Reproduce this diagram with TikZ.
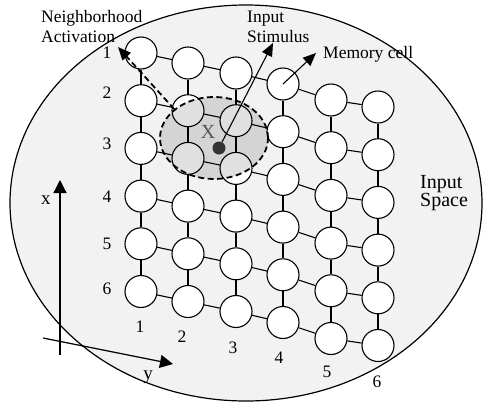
\documentclass[tikz,border=0pt]{standalone}
\usepackage{fontspec}
\setmainfont{Liberation Serif}
\usetikzlibrary{arrows.meta,shapes.geometric}
\definecolor{spacefill}{HTML}{F2F2F2}
\definecolor{dotfill}{HTML}{333333}
\definecolor{stimtext}{HTML}{555555}

\begin{document}
\begin{tikzpicture}[x=1pt,y=-1pt,
  cell/.style={circle,draw,line width=1.1pt,fill=white,minimum size=32pt,inner sep=0pt},
  link/.style={line width=1.1pt},
  dashline/.style={line width=1.8pt,dash pattern=on 6pt off 3.5pt},
  tip/.style={-{Triangle[length=13pt,width=11pt]}},
  lbl/.style={font=\fontsize{17.5}{20}\selectfont,inner sep=0pt},
  axlbl/.style={font=\fontsize{19}{21}\selectfont,inner sep=0pt}]
\useasboundingbox (0,0) rectangle (483,410);

% input space
\node[ellipse,draw,line width=1.2pt,fill=spacefill,minimum width=472pt,
      minimum height=396pt,inner sep=0pt] (space) at (246,203) {};

% map of memory cells: column / x / y of top cell
\foreach \i/\x/\y in {1/141/53,2/188/63,3/236/73,4/283/84,5/331/100,6/378/107}
  \foreach \j in {1,...,6}
    \node[cell] (c-\i-\j) at (\x,{\y+47.7*(\j-1)}) {};

% vertical and horizontal links
\foreach \i in {1,...,6}{
  \foreach \j in {1,...,5}{
    \pgfmathtruncatemacro{\k}{\j+1}
    \draw[link] (c-\i-\j) -- (c-\i-\k);
    \draw[link] (c-\j-\i) -- (c-\k-\i);
  }
}

% neighbourhood
\node[ellipse,draw,dashline,fill=black,fill opacity=0.12,minimum width=108pt,
      minimum height=82pt,inner sep=0pt] (nb) at (214,138) {};
\node[font=\fontsize{20}{22}\selectfont,text=stimtext,inner sep=0pt] (xs) at (208,132) {X};
\node[circle,fill=dotfill,minimum size=13pt,inner sep=0pt] (dot) at (219,148) {};

% arrows
\coordinate (ts) at (273,43);
\draw[link,tip] (dot) -- (ts);
\coordinate (tm) at (316,53);
\draw[link,tip] (c-4-1.center) -- (tm);
\coordinate (tn) at (118,47);
\draw[dashline,tip] (nb.144) -- (tn);

% axes
\coordinate (xo) at (60,355);
\coordinate (xe) at (60,180);
\draw[line width=1.2pt,-{Triangle[length=13pt,width=13pt]}] (xo) -- (xe);
\coordinate (yo) at (43,338);
\coordinate (ye) at (173,364);
\draw[line width=1.2pt,-{Triangle[length=13pt,width=13pt]}] (yo) -- (ye);
\node[axlbl] (xl) at (46,200) {x};
\node[axlbl] (yl) at (148,377) {y};

% labels
\node[lbl,anchor=base west] (na1) at (41,22) {Neighborhood};
\node[lbl,anchor=base west] (na2) at (41,42) {Activation};
\node[lbl,anchor=base west] (is1) at (247,22) {Input};
\node[lbl,anchor=base west] (is2) at (247,42) {Stimulus};
\node[lbl,anchor=base west] (mc) at (323,58) {Memory cell};
\node[font=\fontsize{20}{18.5}\selectfont,inner sep=0pt,align=left,anchor=north west]
  (sp) at (420,175) {Input\\Space};

% row and column numbers
\foreach \n/\y in {1/53,2/93,3/144,4/197,5/244,6/289}
  \node[lbl] (r-\n) at (107,\y) {\n};
\foreach \n/\x/\y in {1/140/327,2/182/337,3/233/348,4/279/358,5/327/372,6/377/382}
  \node[lbl] (k-\n) at (\x,\y) {\n};
\end{tikzpicture}
\end{document}
